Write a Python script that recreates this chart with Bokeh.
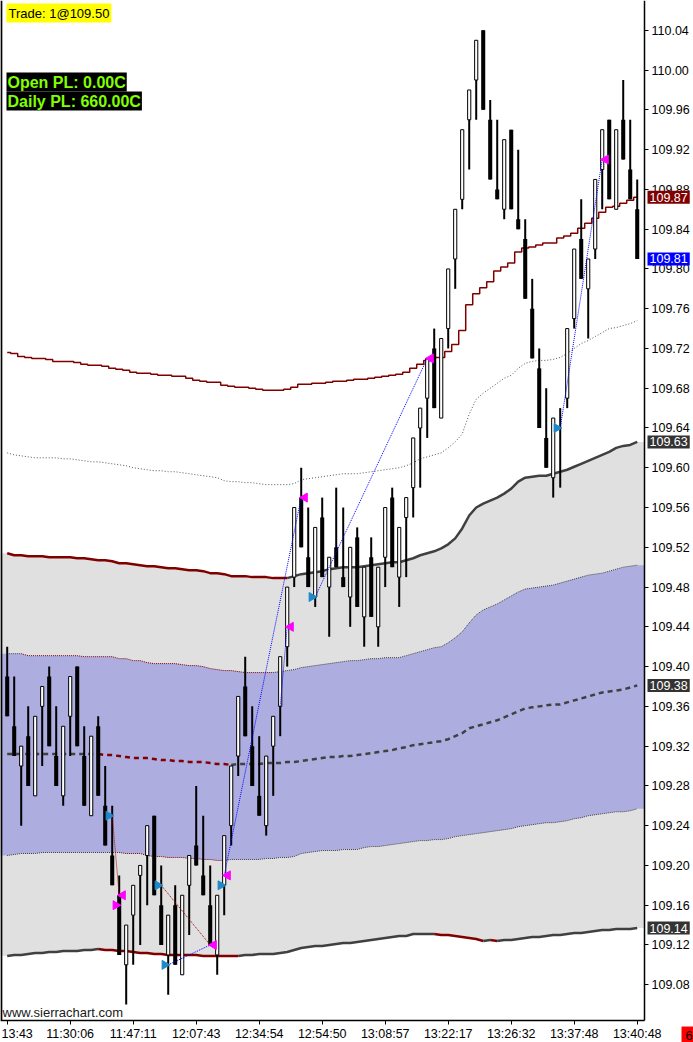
import math
from bokeh.plotting import figure
from bokeh.models import FixedTicker, PrintfTickFormatter, Label
from bokeh.embed import file_html
from bokeh.resources import INLINE

# ---------------- data ----------------
time_labels = ["13:43", "11:30:06", "11:47:11", "12:07:43", "12:34:54", "12:54:50",
               "13:08:57", "13:22:17", "13:26:32", "13:37:48", "13:40:48"]
tick_bars = [0, 9, 18, 27, 36, 45, 54, 63, 72, 81, 90]
price_ticks = [109.08, 109.12, 109.16, 109.20, 109.24, 109.28, 109.32, 109.36, 109.40,
               109.44, 109.48, 109.52, 109.56, 109.60, 109.64, 109.68, 109.72, 109.76,
               109.80, 109.84, 109.88, 109.92, 109.96, 110.00, 110.04]

opens = [109.39, 109.34, 109.30, 109.33, 109.27, 109.36, 109.39, 109.31, 109.27, 109.35,
         109.40, 109.31, 109.25, 109.34, 109.26, 109.21, 109.17, 109.10, 109.15, 109.19,
         109.21, 109.25, 109.16, 109.11, 109.16, 109.09, 109.18, 109.22, 109.19, 109.16,
         109.11, 109.18, 109.24, 109.31, 109.38, 109.32, 109.27, 109.24, 109.32, 109.36,
         109.42, 109.49, 109.57, 109.51, 109.47, 109.55, 109.48, 109.52, 109.49, 109.47,
         109.53, 109.45, 109.51, 109.44, 109.51, 109.57, 109.49, 109.55, 109.58, 109.64,
         109.67, 109.72, 109.65, 109.74, 109.81, 109.87, 109.95, 109.99, 110.04, 109.95,
         109.88, 109.86, 109.94, 109.85, 109.83, 109.76, 109.70, 109.63, 109.59, 109.66,
         109.67, 109.75, 109.83, 109.78, 109.82, 109.90, 109.95, 109.86, 109.95, 109.90,
         109.86]
highs = [109.42, 109.39, 109.32, 109.36, 109.35, 109.38, 109.40, 109.36, 109.34, 109.39,
         109.40, 109.34, 109.33, 109.35, 109.30, 109.26, 109.19, 109.14, 109.18, 109.20,
         109.24, 109.25, 109.20, 109.15, 109.18, 109.17, 109.21, 109.28, 109.25, 109.20,
         109.17, 109.23, 109.30, 109.37, 109.41, 109.36, 109.33, 109.31, 109.35, 109.41,
         109.48, 109.56, 109.60, 109.56, 109.54, 109.57, 109.51, 109.58, 109.56, 109.52,
         109.54, 109.50, 109.53, 109.50, 109.56, 109.58, 109.54, 109.57, 109.63, 109.66,
         109.71, 109.74, 109.73, 109.80, 109.86, 109.94, 109.98, 110.03, 110.04, 109.97,
         109.95, 109.93, 109.94, 109.92, 109.85, 109.79, 109.72, 109.68, 109.65, 109.66,
         109.74, 109.82, 109.87, 109.81, 109.89, 109.94, 109.95, 109.94, 109.99, 109.95,
         109.89]
lows = [109.35, 109.31, 109.24, 109.28, 109.27, 109.30, 109.32, 109.28, 109.26, 109.31,
        109.32, 109.26, 109.25, 109.27, 109.22, 109.18, 109.11, 109.06, 109.10, 109.12,
        109.16, 109.17, 109.12, 109.07, 109.10, 109.09, 109.13, 109.20, 109.17, 109.12,
        109.09, 109.15, 109.22, 109.29, 109.33, 109.28, 109.25, 109.23, 109.27, 109.33,
        109.40, 109.48, 109.52, 109.48, 109.46, 109.49, 109.43, 109.50, 109.48, 109.44,
        109.46, 109.42, 109.45, 109.42, 109.48, 109.50, 109.46, 109.49, 109.55, 109.58,
        109.63, 109.66, 109.65, 109.72, 109.78, 109.86, 109.90, 109.95, 109.96, 109.89,
        109.87, 109.85, 109.86, 109.84, 109.77, 109.71, 109.64, 109.60, 109.57, 109.58,
        109.66, 109.74, 109.79, 109.73, 109.81, 109.86, 109.87, 109.86, 109.91, 109.87,
        109.81]
closes = [109.35, 109.31, 109.32, 109.28, 109.35, 109.38, 109.32, 109.28, 109.34, 109.39,
          109.32, 109.26, 109.33, 109.27, 109.22, 109.18, 109.11, 109.14, 109.18, 109.20,
          109.24, 109.17, 109.12, 109.15, 109.10, 109.17, 109.21, 109.20, 109.17, 109.12,
          109.17, 109.23, 109.30, 109.37, 109.33, 109.28, 109.25, 109.31, 109.35, 109.41,
          109.48, 109.56, 109.52, 109.48, 109.54, 109.49, 109.51, 109.50, 109.48, 109.52,
          109.46, 109.50, 109.45, 109.50, 109.56, 109.50, 109.54, 109.57, 109.63, 109.66,
          109.71, 109.66, 109.73, 109.80, 109.86, 109.94, 109.98, 110.03, 109.96, 109.89,
          109.87, 109.93, 109.86, 109.84, 109.77, 109.71, 109.64, 109.60, 109.65, 109.66,
          109.74, 109.82, 109.79, 109.81, 109.89, 109.94, 109.87, 109.94, 109.91, 109.87,
          109.81]

# stepped reference line (dark red)
ref_line = [109.716, 109.715, 109.712, 109.711, 109.710, 109.710, 109.709, 109.707, 109.707, 109.707,
            109.706, 109.704, 109.703, 109.703, 109.702, 109.700, 109.699, 109.698, 109.696, 109.695,
            109.695, 109.694, 109.693, 109.693, 109.692, 109.692, 109.690, 109.688, 109.687, 109.686,
            109.686, 109.683, 109.682, 109.681, 109.681, 109.680, 109.679, 109.678, 109.678, 109.678,
            109.679, 109.681, 109.684, 109.684, 109.685, 109.685, 109.686, 109.687, 109.687, 109.688,
            109.689, 109.689, 109.690, 109.691, 109.692, 109.693, 109.694, 109.696, 109.700, 109.704,
            109.708, 109.711, 109.711, 109.717, 109.724, 109.738, 109.764, 109.775, 109.781, 109.787,
            109.798, 109.802, 109.806, 109.817, 109.821, 109.822, 109.824, 109.826, 109.826, 109.831,
            109.833, 109.836, 109.841, 109.846, 109.851, 109.857, 109.862, 109.863, 109.866, 109.869,
            109.872]
# gray dotted average
avg_line = [109.615, 109.613, 109.612, 109.611, 109.610, 109.610, 109.610, 109.610, 109.609, 109.609,
            109.608, 109.607, 109.606, 109.606, 109.605, 109.604, 109.603, 109.602, 109.600, 109.599,
            109.598, 109.597, 109.597, 109.596, 109.596, 109.595, 109.594, 109.593, 109.592, 109.591,
            109.590, 109.587, 109.586, 109.586, 109.585, 109.585, 109.584, 109.583, 109.583, 109.583,
            109.583, 109.584, 109.588, 109.589, 109.590, 109.591, 109.592, 109.593, 109.594, 109.594,
            109.594, 109.595, 109.596, 109.597, 109.598, 109.599, 109.600, 109.602, 109.605, 109.609,
            109.611, 109.613, 109.615, 109.620, 109.626, 109.634, 109.654, 109.669, 109.675, 109.680,
            109.685, 109.690, 109.693, 109.700, 109.705, 109.707, 109.708, 109.708, 109.709, 109.711,
            109.715, 109.720, 109.725, 109.728, 109.732, 109.736, 109.740, 109.741, 109.743, 109.745,
            109.748]
upper2 = [109.514, 109.512, 109.512, 109.511, 109.511, 109.511, 109.510, 109.510, 109.510, 109.510,
          109.509, 109.509, 109.508, 109.507, 109.507, 109.506, 109.504, 109.504, 109.503, 109.502,
          109.501, 109.501, 109.500, 109.499, 109.499, 109.498, 109.497, 109.497, 109.496, 109.494,
          109.494, 109.493, 109.491, 109.491, 109.491, 109.490, 109.490, 109.490, 109.489, 109.489,
          109.489, 109.491, 109.493, 109.494, 109.495, 109.496, 109.498, 109.499, 109.500, 109.500,
          109.500, 109.501, 109.502, 109.503, 109.504, 109.505, 109.505, 109.507, 109.509, 109.512,
          109.514, 109.516, 109.519, 109.523, 109.529, 109.539, 109.552, 109.560, 109.564, 109.567,
          109.570, 109.574, 109.579, 109.586, 109.590, 109.591, 109.592, 109.592, 109.594, 109.596,
          109.598, 109.601, 109.604, 109.607, 109.610, 109.613, 109.616, 109.620, 109.622, 109.623,
          109.626]
upper1 = [109.413, 109.413, 109.413, 109.411, 109.411, 109.411, 109.411, 109.411, 109.411, 109.411,
          109.411, 109.410, 109.410, 109.410, 109.410, 109.410, 109.408, 109.408, 109.406, 109.406,
          109.404, 109.403, 109.403, 109.403, 109.403, 109.402, 109.401, 109.401, 109.400, 109.398,
          109.397, 109.396, 109.396, 109.395, 109.394, 109.394, 109.394, 109.394, 109.394, 109.395,
          109.396, 109.397, 109.399, 109.400, 109.401, 109.402, 109.403, 109.404, 109.405, 109.406,
          109.406, 109.407, 109.408, 109.408, 109.409, 109.409, 109.409, 109.411, 109.413, 109.415,
          109.417, 109.419, 109.420, 109.424, 109.429, 109.435, 109.444, 109.452, 109.457, 109.460,
          109.463, 109.467, 109.471, 109.475, 109.478, 109.479, 109.480, 109.481, 109.482, 109.484,
          109.486, 109.488, 109.490, 109.492, 109.493, 109.494, 109.496, 109.498, 109.500, 109.501,
          109.502]
center = [109.312, 109.312, 109.312, 109.312, 109.312, 109.312, 109.312, 109.312, 109.312, 109.312,
          109.312, 109.312, 109.312, 109.312, 109.311, 109.311, 109.310, 109.309, 109.308, 109.308,
          109.308, 109.307, 109.306, 109.306, 109.305, 109.305, 109.304, 109.304, 109.304, 109.303,
          109.302, 109.302, 109.301, 109.302, 109.302, 109.302, 109.302, 109.303, 109.303, 109.303,
          109.304, 109.304, 109.305, 109.306, 109.307, 109.308, 109.309, 109.309, 109.310, 109.310,
          109.311, 109.312, 109.313, 109.314, 109.315, 109.316, 109.318, 109.319, 109.321, 109.322,
          109.323, 109.324, 109.325, 109.327, 109.330, 109.333, 109.338, 109.340, 109.342, 109.344,
          109.346, 109.349, 109.352, 109.355, 109.358, 109.359, 109.360, 109.361, 109.362, 109.362,
          109.364, 109.366, 109.368, 109.370, 109.372, 109.374, 109.375, 109.376, 109.377, 109.379,
          109.381]
lower1 = [109.210, 109.211, 109.212, 109.212, 109.212, 109.213, 109.213, 109.213, 109.213, 109.213,
          109.213, 109.213, 109.213, 109.213, 109.213, 109.213, 109.213, 109.212, 109.212, 109.212,
          109.210, 109.209, 109.209, 109.208, 109.208, 109.208, 109.207, 109.207, 109.206, 109.206,
          109.205, 109.205, 109.206, 109.206, 109.206, 109.206, 109.206, 109.207, 109.207, 109.208,
          109.208, 109.209, 109.212, 109.213, 109.214, 109.215, 109.215, 109.215, 109.216, 109.216,
          109.216, 109.218, 109.219, 109.219, 109.220, 109.221, 109.222, 109.223, 109.224, 109.225,
          109.225, 109.226, 109.226, 109.227, 109.229, 109.230, 109.231, 109.232, 109.233, 109.234,
          109.235, 109.236, 109.237, 109.239, 109.240, 109.241, 109.242, 109.243, 109.243, 109.244,
          109.245, 109.247, 109.248, 109.250, 109.251, 109.252, 109.253, 109.254, 109.254, 109.255,
          109.257]
lower2 = [109.109, 109.110, 109.110, 109.111, 109.112, 109.112, 109.113, 109.113, 109.114, 109.114,
          109.114, 109.115, 109.115, 109.116, 109.115, 109.115, 109.114, 109.114, 109.113, 109.112,
          109.112, 109.111, 109.111, 109.110, 109.110, 109.110, 109.110, 109.110, 109.109, 109.109,
          109.109, 109.109, 109.109, 109.109, 109.110, 109.110, 109.111, 109.111, 109.111, 109.112,
          109.113, 109.115, 109.117, 109.118, 109.119, 109.119, 109.120, 109.121, 109.122, 109.122,
          109.123, 109.124, 109.125, 109.126, 109.127, 109.128, 109.129, 109.129, 109.131, 109.131,
          109.131, 109.131, 109.130, 109.130, 109.129, 109.128, 109.127, 109.126, 109.124, 109.125,
          109.124, 109.125, 109.125, 109.126, 109.127, 109.128, 109.128, 109.129, 109.130, 109.130,
          109.131, 109.132, 109.132, 109.133, 109.134, 109.135, 109.135, 109.136, 109.136, 109.136,
          109.137]

# trades
buy_bars = [15, 22, 23, 31, 44, 79]
buy_prices = [109.25, 109.18, 109.10, 109.18, 109.47, 109.64]
sell_bars = [16, 29, 31, 40, 42, 60, 85]
sell_prices = [109.17, 109.12, 109.19, 109.44, 109.57, 109.71, 109.91]
short_bars = [16]
short_prices = [109.16]
loss_from_bar = [15, 22]
loss_from_price = [109.25, 109.18]
loss_to_bar = [16, 29]
loss_to_price = [109.17, 109.12]
win_from_bar = [23, 31, 44, 79, 39]
win_from_price = [109.10, 109.19, 109.47, 109.64, 109.36]
win_to_bar = [29, 42, 60, 85, 40]
win_to_price = [109.12, 109.57, 109.71, 109.91, 109.44]

# ---------------- styling ----------------
RED = "#800000"
DGRAY = "#404040"
FONT = "Liberation Sans"
# price-area bounds (the axes sit on these) and the full canvas ranges
X0, X1 = -0.957, 91.04
Y0, Y1 = 109.044, 110.070
XR_END = 98.04
YR_START = 109.0219

p = figure(width=693, height=1042, x_range=(X0, XR_END), y_range=(YR_START, Y1),
           y_axis_location="right", output_backend="svg", toolbar_location=None,
           min_border_left=0, min_border_top=0, min_border_right=0, min_border_bottom=0)
p.xgrid.visible = False
p.ygrid.visible = False
p.outline_line_color = None
p.background_fill_color = "white"
p.border_fill_color = "white"

idx = list(range(len(closes)))

# bands
xf = [X0] + idx + [X1]
def ext(v):
    return [v[0]] + list(v) + [v[-1]]
p.varea(x=xf, y1=ext(lower2), y2=ext(upper2), fill_color="#e0e0e0")
p.varea(x=xf, y1=ext(lower1), y2=ext(upper1), fill_color="#adade0")

def slope_runs(vals):
    cols = []
    prev = DGRAY
    for i in range(1, len(vals)):
        d = vals[i] - vals[i - 1]
        c = RED if d < -1e-9 else (DGRAY if d > 1e-9 else prev)
        cols.append(c)
        prev = c
    xs, ys, cs = [], [], []
    start = 0
    for i in range(1, len(cols) + 1):
        if i == len(cols) or cols[i] != cols[start]:
            xs.append(list(range(start, i + 1)))
            ys.append(list(vals[start:i + 1]))
            cs.append(cols[start])
            start = i
    return xs, ys, cs

for series, width, dash in [(upper1, 1, "1 1"), (lower1, 1, "1 1"),
                            (upper2, 2.5, "solid"), (lower2, 2.5, "solid"),
                            (center, 2.5, "5 4")]:
    xs, ys, cs = slope_runs(series)
    p.multi_line(xs, ys, line_color=cs, line_width=width, line_dash=dash)

p.line(idx, avg_line, line_color="#555555", line_width=1, line_dash="1 2")
p.step(idx, ref_line, mode="center", line_color=RED, line_width=1.5)

# candles
p.segment(x0=idx, y0=lows, x1=idx, y1=highs, line_color="black", line_width=2)
up = [i for i in idx if closes[i] > opens[i]]
dn = [i for i in idx if closes[i] <= opens[i]]
p.vbar(x=dn, width=0.58, top=[opens[i] for i in dn], bottom=[closes[i] for i in dn],
       fill_color="black", line_color=None)
p.vbar(x=up, width=0.45, top=[closes[i] for i in up], bottom=[opens[i] for i in up],
       fill_color="white", line_color="black", line_width=1)

# trade lines
p.segment(x0=loss_from_bar, y0=loss_from_price, x1=loss_to_bar, y1=loss_to_price,
          line_color="#a00000", line_width=1, line_dash="1 1")
p.segment(x0=win_from_bar, y0=win_from_price, x1=win_to_bar, y1=win_to_price,
          line_color="#0000ff", line_width=1, line_dash="1 1")

# markers
p.scatter([b - 0.5 for b in buy_bars], buy_prices, marker="triangle", angle=-math.pi / 2,
          size=9, fill_color="#1e88c8", line_color="#1e88c8")
p.scatter([b + 0.5 for b in sell_bars], sell_prices, marker="triangle", angle=math.pi / 2,
          size=9, fill_color="#ff00ff", line_color="#ff00ff")
p.scatter([b - 0.5 for b in short_bars], short_prices, marker="triangle", angle=-math.pi / 2,
          size=9, fill_color="#ff00ff", line_color="#ff00ff")

# left border of the price area
p.segment(x0=[X0 + 0.12], y0=[Y0], x1=[X0 + 0.12], y1=[Y1], line_color="black", line_width=2)

# axes, pinned to the edges of the price area
yax = p.yaxis[0]
yax.fixed_location = X1
yax.bounds = (Y0, Y1)
yax.ticker = FixedTicker(ticks=price_ticks)
yax.formatter = PrintfTickFormatter(format="%.2f")
yax.major_label_text_font = FONT
yax.major_label_text_font_size = "12.5px"
yax.major_label_text_color = "black"
yax.axis_line_color = "black"
yax.axis_line_width = 1.5
yax.major_tick_out = 4
yax.major_tick_in = 0
yax.minor_tick_line_color = None
yax.major_label_standoff = 3

xax = p.xaxis[0]
xax.fixed_location = Y0
xax.bounds = (X0, X1)
xax.ticker = FixedTicker(ticks=tick_bars)
overrides = {b: t for b, t in zip(tick_bars, time_labels)}
overrides[tick_bars[0]] = ""
xax.major_label_overrides = overrides
xax.major_label_text_font = FONT
xax.major_label_text_font_size = "12.5px"
xax.major_label_text_color = "black"
xax.axis_line_color = "black"
xax.axis_line_width = 1.5
xax.major_tick_out = 4
xax.major_tick_in = 0
xax.minor_tick_line_color = None
xax.major_label_standoff = 2

# first time label, kept inside the left edge
p.add_layout(Label(x=X0, y=Y0, x_offset=1, y_offset=-6, text=time_labels[0],
                   text_baseline="top", text_align="left", text_font=FONT,
                   text_font_size="12.5px", text_color="black"))

# overlays
p.add_layout(Label(x=X0, y=Y1, x_offset=6, y_offset=-3, text="Trade: 1@109.50",
                   text_baseline="top", text_align="left", text_font=FONT,
                   text_font_size="13px", text_color="black",
                   background_fill_color="#ffff00", padding=2))
p.add_layout(Label(x=X0, y=Y1, x_offset=6, y_offset=-72, text="Open PL: 0.00C",
                   text_baseline="top", text_align="left", text_font=FONT,
                   text_font_size="16px", text_font_style="bold", text_color="#80ff00",
                   background_fill_color="black", padding=1))
p.add_layout(Label(x=X0, y=Y1, x_offset=6, y_offset=-91, text="Daily PL: 660.00C",
                   text_baseline="top", text_align="left", text_font=FONT,
                   text_font_size="16px", text_font_style="bold", text_color="#80ff00",
                   background_fill_color="black", padding=1))
p.add_layout(Label(x=X0, y=Y0, x_offset=2, y_offset=1, text="www.sierrachart.com",
                   text_baseline="bottom", text_align="left", text_font=FONT,
                   text_font_size="13px", text_color="#202020"))
p.add_layout(Label(x=X1, y=Y0, x_offset=37, y_offset=-6, text="6",
                   text_baseline="top", text_align="left", text_font=FONT,
                   text_font_size="13px", text_color="black",
                   background_fill_color="#ff0000", padding=4))

# value flags on the price axis
flags = [(ref_line[-1], RED), (closes[-1], "#0000ff"), (upper2[-1], "#333333"),
         (center[-1], "#333333"), (lower2[-1], "#333333")]
for val, col in flags:
    p.add_layout(Label(x=X1, y=val, x_offset=3, text=f"{val:.2f}", text_baseline="middle",
                       text_align="left", text_font=FONT, text_font_size="12.5px",
                       text_color="white", background_fill_color=col, padding=2))

open("out.html", "w").write(file_html(p, INLINE))
